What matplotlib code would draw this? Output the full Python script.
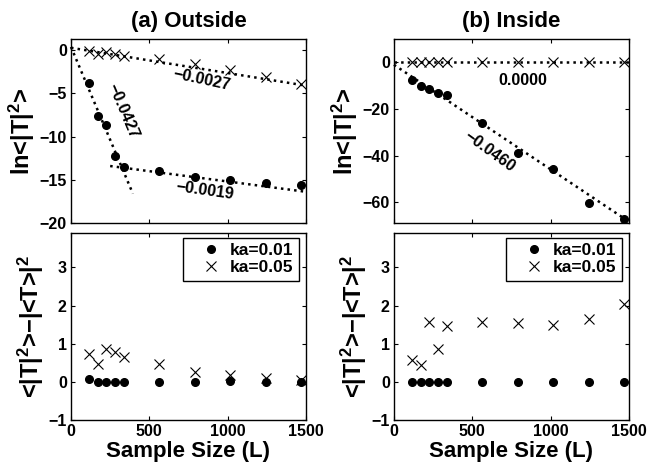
import numpy as np
import matplotlib
matplotlib.use('Agg')
import matplotlib.pyplot as plt

plt.rcParams['font.family'] = ['Liberation Sans', 'DejaVu Sans']
plt.rcParams['font.weight'] = 'bold'
plt.rcParams['mathtext.fontset'] = 'custom'
plt.rcParams['mathtext.default'] = 'bf'
plt.rcParams['mathtext.bf'] = 'Liberation Sans:bold'
plt.rcParams['axes.unicode_minus'] = True

# sample sizes (L)
L = [113, 170, 226, 283, 339, 565, 791, 1017, 1243, 1469]

# (a) outside: ln<|T|^2>
out_ln_001 = [-3.8, -7.6, -8.7, -12.2, -13.5, -14.0, -14.6, -15.0, -15.3, -15.6]
out_ln_005 = [-0.2, -0.5, -0.3, -0.5, -0.8, -1.1, -1.7, -2.4, -3.2, -4.0]
# (b) inside: ln<|T|^2>
in_ln_001 = [-7.5, -10.2, -11.5, -12.9, -14.1, -25.9, -38.7, -45.6, -60.2, -67.0]
in_ln_005 = [0.0, 0.0, 0.0, 0.0, 0.0, 0.0, 0.0, 0.0, 0.0, 0.0]

# variance <|T|^2> - |<T>|^2
out_var_001 = [0.07, 0.0, 0.0, 0.0, 0.0, 0.0, 0.0, 0.02, 0.0, 0.0]
out_var_005 = [0.73, 0.48, 0.86, 0.77, 0.65, 0.47, 0.26, 0.17, 0.11, 0.05]
in_var_001 = [0.0, 0.0, 0.0, 0.0, 0.0, 0.0, 0.0, 0.0, 0.0, 0.0]
in_var_005 = [0.58, 0.45, 1.56, 0.86, 1.46, 1.56, 1.53, 1.50, 1.66, 2.03]

# fitted lines: (intercept, slope, x start, x end, label, label x, label y, rotation)
out_fits = [(0.3, -0.0427, 0, 395, '\u22120.0427', 334, -7.1, -67),
            (-12.8, -0.00237, 250, 1500, '\u22120.0019', 855, -16.2, -8),
            (0.2, -0.0029, 0, 1500, '\u22120.0027', 834, -3.5, -12)]
in_fits = [(-1.0, -0.0448, 0, 1490, '\u22120.0460', 613, -38, -36),
           (0.0, 0.0, 0, 1500, '0.0000', 825, -7.6, 0)]

fig = plt.figure(figsize=(6.49, 4.74), dpi=100)
ax_tl = fig.add_axes([0.1094, 0.5285, 0.362, 0.389])
ax_tr = fig.add_axes([0.607, 0.5285, 0.362, 0.389])
ax_bl = fig.add_axes([0.1094, 0.1139, 0.362, 0.3945])
ax_br = fig.add_axes([0.607, 0.1139, 0.362, 0.3945])

for ax in [ax_tl, ax_tr, ax_bl, ax_br]:
    ax.set_xlim(0, 1500)
    ax.set_xticks([0, 500, 1000, 1500])
    ax.tick_params(direction='in', top=True, right=True, labelsize=11.5,
                   length=3, width=0.8, pad=3)
    for s in ax.spines.values():
        s.set_linewidth(1.0)

def draw_top(ax, y1, y5, fits):
    for b, m, x0, x1, lab, lx, ly, rot in fits:
        xx = np.array([x0, x1])
        ax.plot(xx, b + m*xx, ':', color='k', lw=1.8, clip_on=False)
        ax.text(lx, ly, lab, rotation=rot, ha='center', va='center',
                fontsize=11.5, fontweight='bold', rotation_mode='anchor')
    ax.plot(L, y1, 'o', color='k', ms=5.5, clip_on=False)
    ax.plot(L, y5, 'x', color='k', ms=7, mew=0.8, clip_on=False)
    ax.set_xticklabels([])
    ax.set_ylabel('ln<|T|$^2$>', fontsize=17, fontweight='bold', labelpad=2)

draw_top(ax_tl, out_ln_001, out_ln_005, out_fits)
ax_tl.set_ylim(-20, 1.2)
ax_tl.set_yticks([-20, -15, -10, -5, 0])
ax_tl.set_title('(a) Outside', fontsize=16, fontweight='bold', pad=9)

draw_top(ax_tr, in_ln_001, in_ln_005, in_fits)
ax_tr.set_ylim(-69, 10)
ax_tr.set_yticks([-60, -40, -20, 0])
ax_tr.set_title('(b) Inside', fontsize=16, fontweight='bold', pad=9)

def draw_bottom(ax, y1, y5):
    ax.plot(L, y1, 'o', color='k', ms=5.5, clip_on=False, label='ka=0.01')
    ax.plot(L, y5, 'x', color='k', ms=7, mew=0.8, clip_on=False, label='ka=0.05')
    ax.set_ylim(-1, 3.9)
    ax.set_yticks([-1, 0, 1, 2, 3])
    ax.set_xlabel('Sample Size (L)', fontsize=16, fontweight='bold', labelpad=1)
    ax.set_ylabel('<|T|$^2$>\u2212|<T>|$^2$', fontsize=17, fontweight='bold',
                  labelpad=2)
    leg = ax.legend(loc='upper right', bbox_to_anchor=(0.970, 0.973),
                    fontsize=12.5, fancybox=False, framealpha=1, edgecolor='k',
                    borderaxespad=0, handlelength=2.6, handletextpad=-0.2,
                    borderpad=0.3, labelspacing=0.1)
    leg.get_frame().set_linewidth(1.0)

draw_bottom(ax_bl, out_var_001, out_var_005)
draw_bottom(ax_br, in_var_001, in_var_005)

fig.savefig('out.png', dpi=100)
